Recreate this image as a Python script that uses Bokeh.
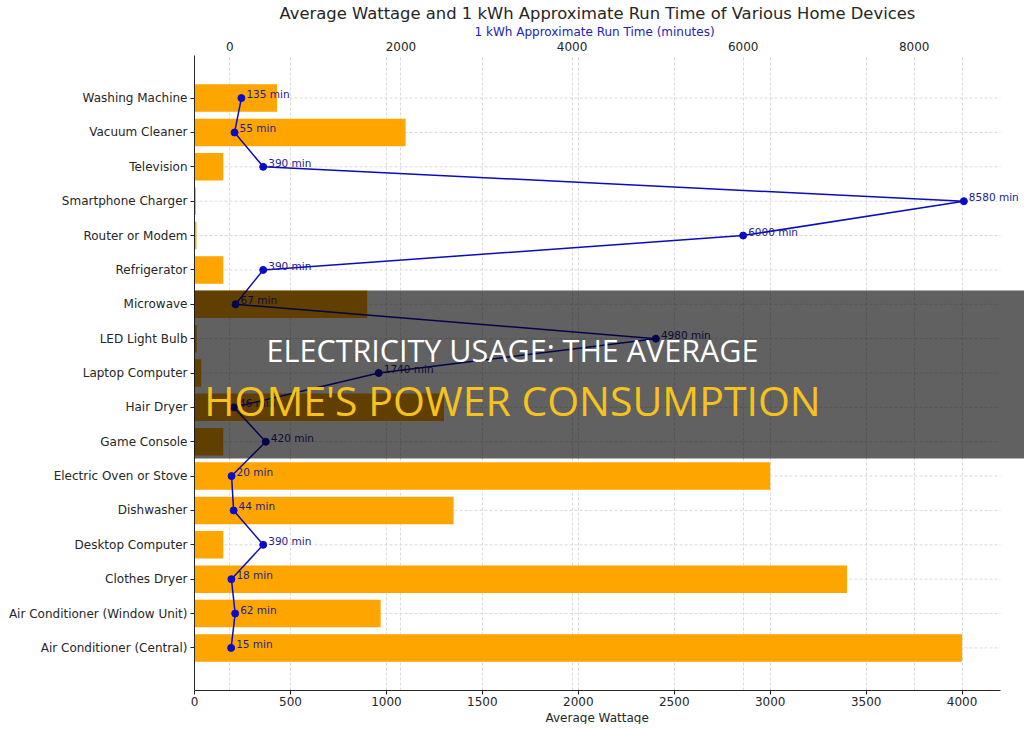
from bokeh.plotting import figure
from bokeh.models import (ColumnDataSource, FactorRange, Range1d, LinearAxis, Grid,
                          FixedTicker, Label, LabelSet, BoxAnnotation, Title)
from bokeh.core.properties import value
from bokeh.embed import file_html
from bokeh.resources import INLINE

# Devices, listed from the top row down
devices = [
    "Washing Machine", "Vacuum Cleaner", "Television", "Smartphone Charger",
    "Router or Modem", "Refrigerator", "Microwave", "LED Light Bulb",
    "Laptop Computer", "Hair Dryer", "Game Console", "Electric Oven or Stove",
    "Dishwasher", "Desktop Computer", "Clothes Dryer",
    "Air Conditioner (Window Unit)", "Air Conditioner (Central)",
]
# Average power draw in watts
watts = [430, 1100, 150, 7, 10, 150, 900, 12, 35, 1300, 150, 3000, 1350, 150, 3400, 970, 4000]
# Minutes one kWh lasts for each device
run_minutes = [135, 55, 390, 8580, 6000, 390, 67, 4980, 1740, 46, 420, 20, 44, 390, 18, 62, 15]

watt_ticks = [0, 500, 1000, 1500, 2000, 2500, 3000, 3500, 4000]
minute_ticks = [0, 2000, 4000, 6000, 8000]

src = ColumnDataSource(dict(
    device=devices,
    watts=watts,
    minutes=run_minutes,
    label=[f"{m} min" for m in run_minutes],
    zero=[0] * len(devices),
))

TXT = "#262626"
FONT = "DejaVu Sans"

# Axes area is 806 px wide; the canvas keeps 24 px more on the right for
# labels and the banner, so both x ranges are stretched by that margin.
AXES_W, RIGHT_PAD = 806, 24
stretch = (AXES_W + RIGHT_PAD) / AXES_W

w_max = max(watts) * 1.05
m_span = max(run_minutes) - min(run_minutes)
m_lo = min(run_minutes) - 0.05 * m_span
m_hi = max(run_minutes) + 0.05 * m_span
src.data["w_end"] = [w_max] * len(devices)

p = figure(
    width=1024, height=724,
    y_range=FactorRange(factors=devices[::-1], range_padding=0.74,
                        range_padding_units="absolute"),
    x_range=Range1d(0, w_max * stretch),
    output_backend="svg", toolbar_location=None,
    min_border_left=194, min_border_right=0,
    min_border_top=55, min_border_bottom=34,
)
p.extra_x_ranges = {"time": Range1d(m_lo, m_lo + (m_hi - m_lo) * stretch)}
p.outline_line_color = None
p.background_fill_color = "white"
p.border_fill_color = "white"

p.title.text = "Average Wattage and 1 kWh Approximate Run Time of Various Home Devices"
p.title.align = "left"
p.title.offset = 279 - 194
p.title.text_font = FONT
p.title.text_font_size = "16.4px"
p.title.text_font_style = "normal"
p.title.text_color = TXT
p.title.standoff = 0

bottom_axis = p.below[0]
bottom_axis.ticker = FixedTicker(ticks=watt_ticks)
bottom_axis.bounds = (0, w_max)

top_axis = LinearAxis(x_range_name="time", ticker=FixedTicker(ticks=minute_ticks))
p.add_layout(top_axis, "above")

for ax in [bottom_axis, top_axis, p.left[0]]:
    ax.major_label_text_font = FONT
    ax.major_label_text_font_size = "12px"
    ax.major_label_text_color = TXT
    ax.axis_line_color = TXT
    ax.major_tick_line_color = TXT
    ax.major_tick_out = 4
    ax.major_tick_in = 0
    ax.minor_tick_line_color = None
    ax.major_label_standoff = 3

bottom_axis.major_label_standoff = 2

top_axis.axis_line_color = None
top_axis.major_tick_line_color = None
top_axis.major_tick_out = 5
top_axis.major_label_standoff = 0

# Axis titles, placed as text rows next to each axis
p.add_layout(Title(text="1 kWh Approximate Run Time (minutes)", align="left",
                   offset=474 - 194, text_font=FONT, text_font_size="12px",
                   text_font_style="normal", text_color="#2323b8", standoff=0),
             "above")
p.add_layout(Title(text="Average Wattage", align="left", offset=351,
                   text_font=FONT, text_font_size="12px",
                   text_font_style="normal", text_color=TXT, standoff=0),
             "below")

GRID_COLOR, GRID_DASH = "#dadada", "3 2"
p.ygrid.grid_line_color = None
p.xgrid.grid_line_color = GRID_COLOR
p.xgrid.grid_line_dash = GRID_DASH
top_grid = Grid(dimension=0, ticker=top_axis.ticker, x_range_name="time",
                grid_line_color=GRID_COLOR, grid_line_dash=GRID_DASH)
p.add_layout(top_grid)

# Row grid lines, stopping at the end of the wattage scale
p.segment(x0="zero", x1="w_end", y0="device", y1="device", source=src,
          line_color=GRID_COLOR, line_dash=GRID_DASH, line_width=1, level="underlay")

# Wattage bars
p.hbar(y="device", left=0, right="watts", height=0.8, source=src,
       fill_color="#FFA500", line_color=None)

# Run time line on the upper scale
p.line(x="minutes", y="device", source=src, x_range_name="time",
       line_color="#0b0bc0", line_width=1.5)
p.scatter(x="minutes", y="device", source=src, x_range_name="time",
          size=7, fill_color="#0b0bc8", line_color="#0b0bc8")
p.add_layout(LabelSet(x="minutes", y="device", text="label", source=src,
                      x_range_name="time", x_offset=5, y_offset=4,
                      text_baseline="middle", text_align="left",
                      text_font=value(FONT), text_font_size=value("10.5px"),
                      text_color=value("#1d1d90")))

# Headline banner
p.add_layout(BoxAnnotation(left=0, right=1024, top=290, bottom=458,
                           left_units="canvas", right_units="canvas",
                           top_units="canvas", bottom_units="canvas",
                           fill_color="black", fill_alpha=0.62, line_color=None,
                           level="overlay"))
p.add_layout(Label(x=512, y=349, x_units="canvas", y_units="canvas",
                   text="ELECTRICITY USAGE: THE AVERAGE", text_align="center",
                   text_baseline="alphabetic", text_font="Open Sans",
                   text_font_size="30.5px", text_color="white", level="overlay"))
p.add_layout(Label(x=512, y=399, x_units="canvas", y_units="canvas",
                   text="HOME'S POWER CONSUMPTION", text_align="center",
                   text_baseline="alphabetic", text_font="Open Sans",
                   text_font_size="41px", text_color="#f6c21d", level="overlay"))

open("out.html", "w").write(file_html(p, INLINE))
